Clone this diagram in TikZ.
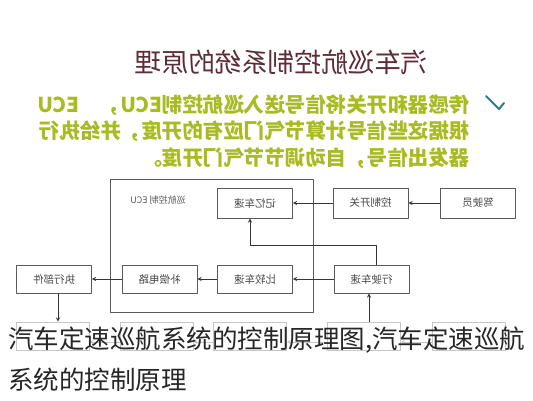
\documentclass[tikz,border=0pt]{standalone}
\usepackage{fontspec}
\usepackage{graphicx}
\newfontfamily\cjk{Noto Sans CJK SC}
\newcommand{\mirtext}[1]{\reflectbox{#1}}
\definecolor{titlered}{HTML}{5E2B36}
\definecolor{notegreen}{HTML}{A9BB22}
\definecolor{tickteal}{HTML}{2F7F7C}
\definecolor{boxgray}{HTML}{5A5A5A}
\begin{document}
\begin{tikzpicture}[x=1pt,y=-1pt,line join=round,>=stealth,font=\cjk]
		\tikzset{blk/.style={draw=boxgray,line width=.8pt,minimum width=75pt,minimum height=30pt,inner sep=0pt,font=\cjk\fontsize{10.5}{10.5}\selectfont,text=boxgray!80!black},
			faint/.style={blk,draw=gray!45,minimum height=28pt},
			note/.style={anchor=east,inner sep=0pt,text=notegreen,font=\cjk\bfseries\fontsize{20.5}{20.5}\selectfont}}
		\useasboundingbox[fill=white] (0,0) rectangle (533,400);
		% title and note
		\node[text=titlered,font=\cjk\fontsize{26.6}{26.6}\selectfont] (title) at (281.5,62) {\mirtext{汽车巡航控制系统的原理}};
		\draw[tickteal,line width=2pt,line cap=round] (486,96)--(499,109)--(504,103);
		\node[note] (l1) at (470,105) {\mirtext{传感器和开关将信号送入巡航控制ECU，\quad ECU}};
		\node[note] (l2) at (470,131) {\mirtext{根据这些信号计算节气门应有的开度，并给执行}};
		\node[note] (l3) at (470,158) {\mirtext{器发出信号，自动调节节气门开度。}};
		% ECU frame
		\node[draw=boxgray,line width=.8pt,minimum width=203pt,minimum height=133pt,inner sep=0pt] (ecu) at (211.5,245.5) {};
		\node[text=boxgray,font=\cjk\fontsize{9}{9}\selectfont] (ecutxt) at (158,200) {\mirtext{巡航控制 ECU}};
		% blocks
		\node[blk] (driver) at (478,203) {\mirtext{驾驶员}};
		\node[blk] (switch) at (370.5,203) {\mirtext{控制开关}};
		\node[blk] (memory) at (255,203) {\mirtext{记忆车速}};
		\node[blk,minimum height=28pt] (speed) at (371.5,279) {\mirtext{行驶车速}};
		\node[blk,minimum height=28pt] (compare) at (255,279) {\mirtext{比较车速}};
		\node[blk,minimum height=28pt] (comp) at (159.5,279) {\mirtext{补偿电路}};
		\node[blk,minimum height=28pt] (actuator) at (54,279) {\mirtext{执行部件}};
		\foreach \n/\x in {b1/52.5,b2/156.5,b3/250,b4/364,b5/468.5}
		\node[faint,minimum width=73pt] (\n) at (\x,336) {};
		% connectors
		\draw[->,line width=.9pt,boxgray!60!black] (driver)--(switch);
		\draw[->,line width=.9pt,boxgray!60!black] (switch)--(memory);
		\draw[->,line width=.9pt,boxgray!60!black] (speed)--(compare);
		\draw[->,line width=.9pt,boxgray!60!black] (compare)--(comp);
		\draw[->,line width=.9pt,boxgray!60!black] (comp)--(actuator);
		\draw[->,line width=.9pt,boxgray!60!black] ([xshift=5pt]speed.north)--++(0,-19) -| ([xshift=-5pt]memory.south);
		\draw[->,line width=.9pt,boxgray!60!black] ([xshift=4pt]actuator.south)--([xshift=5.5pt]b1.north);
		\draw[->,line width=.9pt,boxgray!60!black] ([xshift=-2.5pt]speed.south |- b4.north)--([xshift=-2.5pt]speed.south);
		\foreach \a/\b in {b5/b4,b4/b3,b3/b2,b2/b1}
		\draw[->,gray!45,line width=.8pt] ([yshift=-6pt]\a.west)--([yshift=-6pt]\b.east);
		% caption
		\node[anchor=west,inner sep=0pt,text=black!85,font=\cjk\fontsize{25.5}{25.5}\selectfont] (cap1) at (8,340) {汽车定速巡航系统的控制原理图,汽车定速巡航};
		\node[anchor=west,inner sep=0pt,text=black!85,font=\cjk\fontsize{25.5}{25.5}\selectfont] (cap2) at (8,380) {系统的控制原理};
\end{tikzpicture}
\end{document}
